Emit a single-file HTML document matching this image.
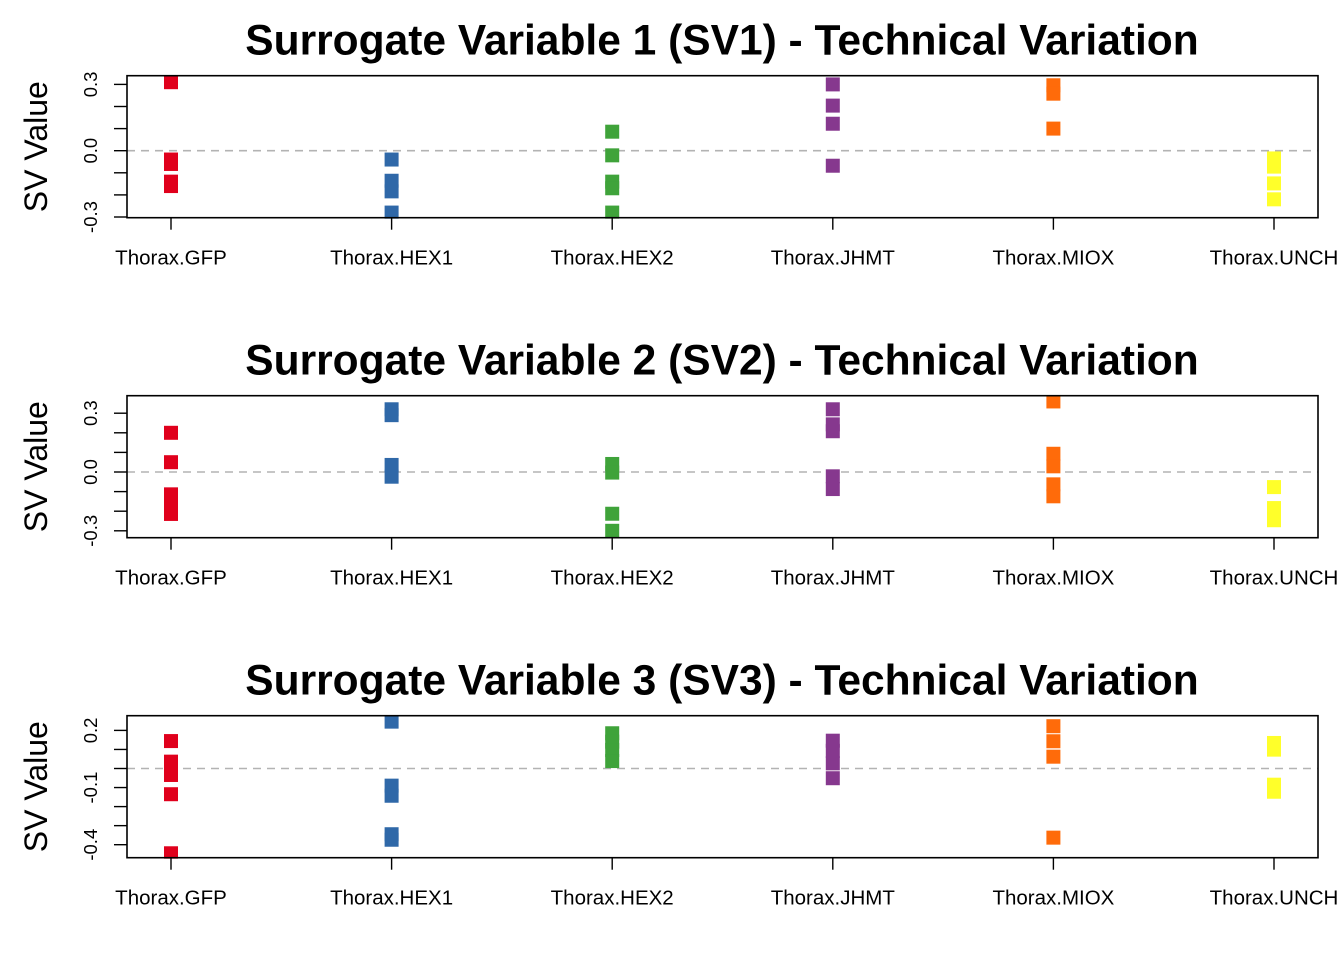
<!DOCTYPE html>
<html><head><meta charset="utf-8"><style>
body{margin:0;background:#fff;}
svg{display:block;font-family:"Liberation Sans",Arial,sans-serif;}
</style></head><body>
<svg id="chart" width="1344" height="960" viewBox="0 0 1344 960"></svg>
<script>
const categories = ["Thorax.GFP","Thorax.HEX1","Thorax.HEX2","Thorax.JHMT","Thorax.MIOX","Thorax.UNCH"];
const colors = ["#E0001C","#2F68A8","#3FA33A","#86388E","#FF6B0A","#FFFF2A"];
const titles = ["Surrogate Variable 1 (SV1) - Technical Variation","Surrogate Variable 2 (SV2) - Technical Variation","Surrogate Variable 3 (SV3) - Technical Variation"];
const sv1 = [[0.31,-0.04,-0.06,-0.14,-0.16],[-0.04,-0.136,-0.184,-0.28],[0.086,-0.021,-0.14,-0.17,-0.28],[0.30,0.204,0.122,-0.068],[0.296,0.258,0.10],[-0.035,-0.072,-0.148,-0.22]];
const sv2 = [[0.20,0.05,-0.114,-0.16,-0.214],[0.32,0.29,0.036,-0.024],[0.041,-0.003,-0.213,-0.30],[0.32,0.243,0.208,-0.022,-0.087],[0.36,0.093,0.029,-0.063,-0.124],[-0.077,-0.184,-0.246]];
const sv3 = [[0.144,0.036,-0.034,-0.135,-0.445],[0.246,-0.09,-0.143,-0.345,-0.374],[0.185,0.141,0.097,0.039],[0.146,0.093,0.027,-0.051],[0.222,0.143,0.062,-0.363],[0.134,0.099,-0.085,-0.122]];
const majorTicks1 = [-0.3,0.0,0.3], minorTicks1 = [-0.2,-0.1,0.1,0.2];
const majorTicks2 = [-0.3,0.0,0.3], minorTicks2 = [-0.2,-0.1,0.1,0.2];
const majorTicks3 = [-0.4,-0.1,0.2], minorTicks3 = [-0.3,-0.2,0.0,0.1];
const tickLabels1 = ["-0.3","0.0","0.3"], tickLabels2 = ["-0.3","0.0","0.3"], tickLabels3 = ["-0.4","-0.1","0.2"];

const NS="http://www.w3.org/2000/svg";
const svg=document.getElementById('chart');
function mk(tag,attrs,parent){const e=document.createElementNS(NS,tag);for(const k in attrs)e.setAttribute(k,attrs[k]);(parent||svg).appendChild(e);return e;}

const panels=[
 {data:sv1,maj:majorTicks1,min:minorTicks1,lab:tickLabels1,top:75.7,bot:217.7,zeroY:150.7,ppu:221},
 {data:sv2,maj:majorTicks2,min:minorTicks2,lab:tickLabels2,top:395.7,bot:537.7,zeroY:472,ppu:196},
 {data:sv3,maj:majorTicks3,min:minorTicks3,lab:tickLabels3,top:715.7,bot:857.7,zeroY:768.5,ppu:190.5}
];
const left=127,right=1318;
const xOf=i=>171+i*220.6;

panels.forEach((p,pi)=>{
  const g=mk('g',{});
  
  
  const yOf=v=>p.zeroY-v*p.ppu;
  const t=mk('text',{x:722,y:p.top-21,'text-anchor':'middle','font-size':42.5,'font-weight':'bold',fill:'#000'},g);
  t.textContent=titles[pi];
  
  
  const yl=mk('text',{x:0,y:0,transform:`translate(47,${(p.top+p.bot)/2}) rotate(-90)`,'text-anchor':'middle','font-size':32,fill:'#000'},g);
  yl.textContent='SV Value';
  
  
  const zl=mk('line',{x1:left,x2:right,y1:yOf(0),y2:yOf(0),stroke:'#b3b3b3','stroke-width':1.6,'stroke-dasharray':'8,6'},g);
  
  
  p.data.forEach((vals,ci)=>{
    vals.forEach(v=>{
      const r=mk('rect',{x:xOf(ci)-7,y:yOf(v)-7,width:14,height:14,fill:colors[ci]},g);
      
      
    });
  });
  mk('rect',{x:left-2,y:p.top-10,width:right-left+4,height:10,fill:'#fff'},g);
  mk('rect',{x:left-2,y:p.bot+1,width:right-left+4,height:8,fill:'#fff'},g);
  const box=mk('rect',{x:left,y:p.top,width:right-left,height:p.bot-p.top,fill:'none',stroke:'#000','stroke-width':1.6},g);
  
  
  p.maj.concat(p.min).forEach(v=>{mk('line',{x1:left-13,x2:left,y1:yOf(v),y2:yOf(v),stroke:'#000','stroke-width':1.4},g);});
  p.maj.forEach((v,k)=>{
    const tl=mk('text',{x:0,y:0,transform:`translate(97,${yOf(v)}) rotate(-90)`,'text-anchor':'middle','font-size':18.5,fill:'#000'},g);
    tl.textContent=p.lab[k];
    
    
  });
  categories.forEach((c,ci)=>{
    mk('line',{x1:xOf(ci),x2:xOf(ci),y1:p.bot,y2:p.bot+12,stroke:'#000','stroke-width':1.4},g);
    const xl=mk('text',{x:xOf(ci),y:p.bot+47,'text-anchor':'middle','font-size':20.5,fill:'#000'},g);
    xl.textContent=c;
    
    
  });
});
</script>
</body></html>
